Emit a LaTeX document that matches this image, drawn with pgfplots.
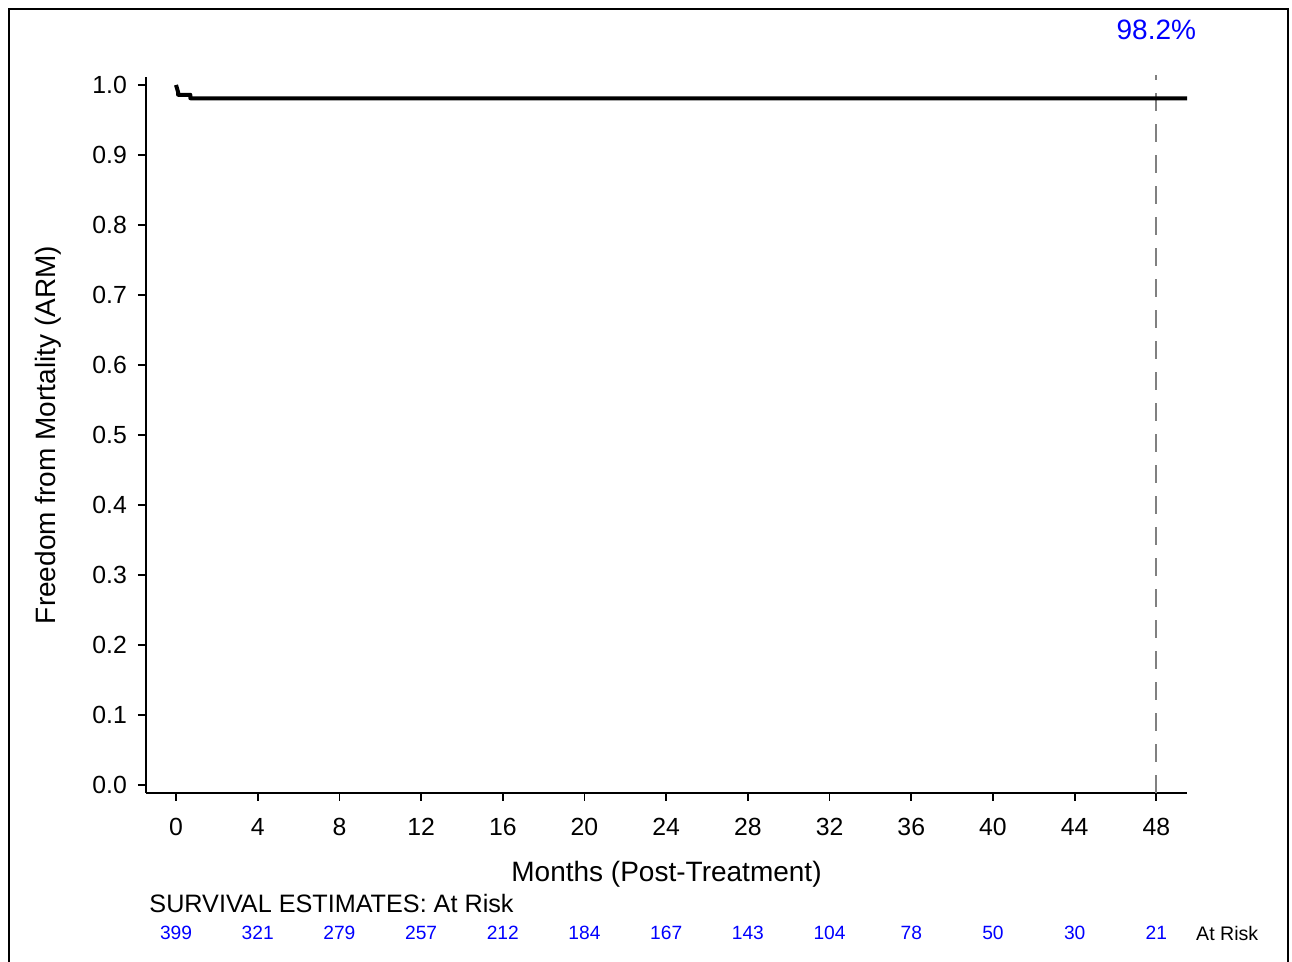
\documentclass[border=0pt]{standalone}
\usepackage{pgfplots}
\pgfplotsset{compat=1.18}
\usepackage{fontspec}
\setmainfont{Liberation Sans}
\begin{document}
\begin{tikzpicture}
\useasboundingbox (0,0) rectangle (646pt,-481pt);
\draw[line width=1pt] (4.5pt,-481pt) -- (4.5pt,-4.5pt) -- (644pt,-4.5pt) -- (644pt,-481pt);
\begin{axis}[
  at={(73pt,-396.5pt)}, anchor=south west,
  scale only axis, width=520.5pt, height=358pt,
  xmin=-1.47, xmax=49.5, ymin=-0.0114, ymax=1.0114,
  axis x line*=bottom, axis y line*=left,
  axis line style={line width=0.9pt},
  xtick={0,4,...,48}, ytick={0,0.1,...,1.0},
  tick align=outside, major tick length=4pt,
  tick style={line width=0.9pt, black},
  /pgf/number format/assume math mode=true,
  yticklabel style={/pgf/number format/fixed, /pgf/number format/fixed zerofill, /pgf/number format/precision=1},
  ticklabel style={font=\fontsize{12.4}{14}\selectfont},
  xticklabel style={yshift=-5pt},
  yticklabel style={xshift=-2pt},
  xlabel={Months (Post-Treatment)},
  ylabel={Freedom from Mortality (ARM)},
  label style={font=\fontsize{14}{16}\selectfont},
  xlabel style={at={(rel axis cs:0.5,0)}, anchor=center, yshift=-40.5pt},
  ylabel style={at={(rel axis cs:0,0.5)}, anchor=center, yshift=49pt},
  clip=false,
  nodes near coords style={font=\fontsize{9.6}{11}\selectfont},
]
\addplot[gray, line width=1pt, dash pattern=on 9pt off 6.5pt] coordinates {(48,-0.0114) (48,1.0143)};
\addplot[black, line width=2pt, line join=round] coordinates {
 (0,1.0) (0.03,0.997) (0.1,0.99) (0.1,0.986) (0.7,0.986) (0.7,0.981) (49.5,0.981)
};
\node[blue, font=\fontsize{14}{16}\selectfont] at (axis cs:48,1.0786) {98.2\%};
\node[anchor=west, inner sep=0pt, font=\fontsize{12.6}{14}\selectfont] at (axis cs:-1.32,-0.1686) {SURVIVAL ESTIMATES: At Risk};
\addplot[only marks, mark=none, nodes near coords, point meta=explicit symbolic,
  nodes near coords align=center, every node near coord/.append style={blue, anchor=center}]
  table[meta=n] {
x y n
0 -0.2114 399
4 -0.2114 321
8 -0.2114 279
12 -0.2114 257
16 -0.2114 212
20 -0.2114 184
24 -0.2114 167
28 -0.2114 143
32 -0.2114 104
36 -0.2114 78
40 -0.2114 50
44 -0.2114 30
48 -0.2114 21
};
\node[font=\fontsize{9.8}{11}\selectfont] at (axis cs:51.47,-0.2114) {At Risk};
\end{axis}
\end{tikzpicture}
\end{document}
